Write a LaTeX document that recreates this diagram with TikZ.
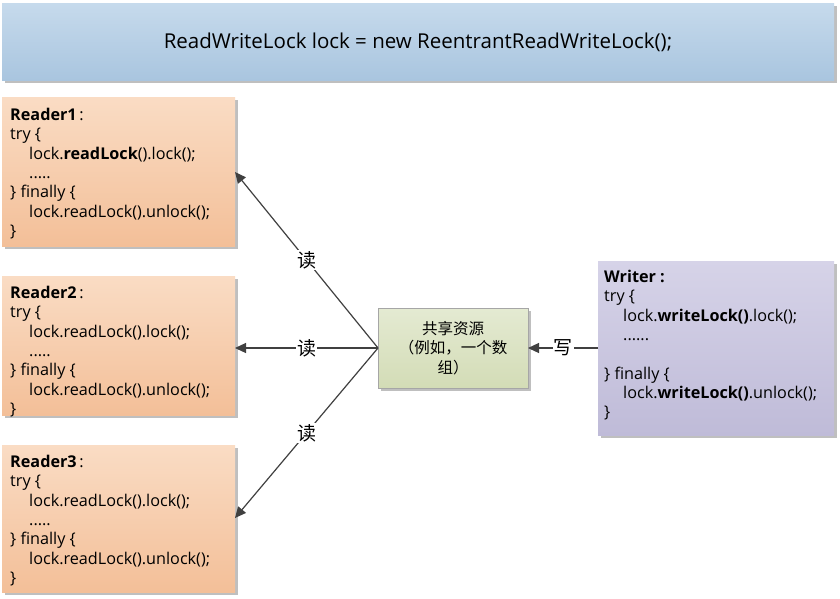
\documentclass[tikz,border=0pt]{standalone}
\usepackage{fontspec}
\setmainfont{Open Sans}
\newfontfamily\cjk{Noto Sans CJK SC}
\usetikzlibrary{shadows,arrows.meta}
\definecolor{topA}{HTML}{C6DAEC}
\definecolor{topB}{HTML}{A9C5DF}
\definecolor{orA}{HTML}{FADCC4}
\definecolor{orB}{HTML}{F3BF98}
\definecolor{puA}{HTML}{D6D3E8}
\definecolor{puB}{HTML}{BFBBD8}
\definecolor{grA}{HTML}{E4EAD2}
\definecolor{grB}{HTML}{D3DCB6}
\definecolor{lineC}{HTML}{404040}
\tikzset{
  x=1pt,y=-1pt,
  boxshadow/.style={drop shadow={shadow xshift=3pt,shadow yshift=-3pt,fill=black,opacity=0.25}},
  titlebox/.style={draw=none,top color=topA,bottom color=topB,boxshadow,inner sep=0pt},
  readerbox/.style={draw=none,top color=orA,bottom color=orB,boxshadow,inner sep=0pt,anchor=north west},
  writerbox/.style={draw=none,top color=puA,bottom color=puB,boxshadow,inner sep=0pt,anchor=north west},
  resbox/.style={draw=gray!70,top color=grA,bottom color=grB,boxshadow,inner sep=0pt,anchor=north west},
  codetext/.style={anchor=north west,align=left,inner sep=0pt,font=\fontsize{16.2}{19.3}\selectfont},
  conn/.style={draw=lineC,line width=1.2pt,-{Triangle[length=11pt,width=10pt]}},
  lbl/.style={fill=white,inner sep=1pt,font=\cjk\fontsize{19}{21}\selectfont,text=black},
}
\begin{document}
\begin{tikzpicture}
\useasboundingbox (0,0) rectangle (840,598);
\fill[white] (0,0) rectangle (840,598);
% title
\node[titlebox,minimum width=832pt,minimum height=77pt,anchor=north west] (title) at (2,3) {};
\node[font=\fontsize{20.5}{24}\selectfont] (titletext) at (418,42) {ReadWriteLock lock = new ReentrantReadWriteLock();};
% readers
\node[readerbox,minimum width=233pt,minimum height=149pt] (r1) at (2,97) {};
\node[codetext] (r1t) at (10,108) {\textbf{Reader1}\,:\\try \{\\\hspace*{19pt}lock.\textbf{readLock}().lock();\\\hspace*{19pt}.....\\\} finally \{\\\hspace*{19pt}lock.readLock().unlock();\\\}};
\node[readerbox,minimum width=233pt,minimum height=139pt] (r2) at (2,276) {};
\node[codetext] (r2t) at (10,286) {\textbf{Reader2}\,:\\try \{\\\hspace*{19pt}lock.readLock().lock();\\\hspace*{19pt}.....\\\} finally \{\\\hspace*{19pt}lock.readLock().unlock();\\\}};
\node[readerbox,minimum width=233pt,minimum height=147pt] (r3) at (2,445) {};
\node[codetext] (r3t) at (10,455) {\textbf{Reader3}\,:\\try \{\\\hspace*{19pt}lock.readLock().lock();\\\hspace*{19pt}.....\\\} finally \{\\\hspace*{19pt}lock.readLock().unlock();\\\}};
% writer
\node[writerbox,minimum width=236pt,minimum height=174pt] (w) at (598,261) {};
\node[codetext] (wt) at (604,270) {\textbf{Writer :}\\try \{\\\hspace*{19pt}lock.\textbf{writeLock()}.lock();\\\hspace*{19pt}......\\[19.3pt]\} finally \{\\\hspace*{19pt}lock.\textbf{writeLock()}.unlock();\\\}};
% resource
\node[resbox,minimum width=150pt,minimum height=80pt] (res) at (378,308) {};
\node[align=center,inner sep=0pt,font=\cjk\fontsize{15.5}{19.3}\selectfont] (restext) at (453,348) {共享资源\\（例如，一个数\\组）};
% connectors
\coordinate (c) at (378,348);
\coordinate (r1e) at (235,172);
\coordinate (r2e) at (235,348);
\coordinate (r3e) at (235,518);
\coordinate (we) at (598,348);
\coordinate (rese) at (528,348);
\draw[conn] (c) -- node[lbl,pos=0.5] {读} (r1e);
\draw[conn] (c) -- node[lbl,pos=0.5] {读} (r2e);
\draw[conn] (c) -- node[lbl,pos=0.5] {读} (r3e);
\draw[conn] (we) -- node[lbl,pos=0.5] {写} (rese);
\end{tikzpicture}
\end{document}
